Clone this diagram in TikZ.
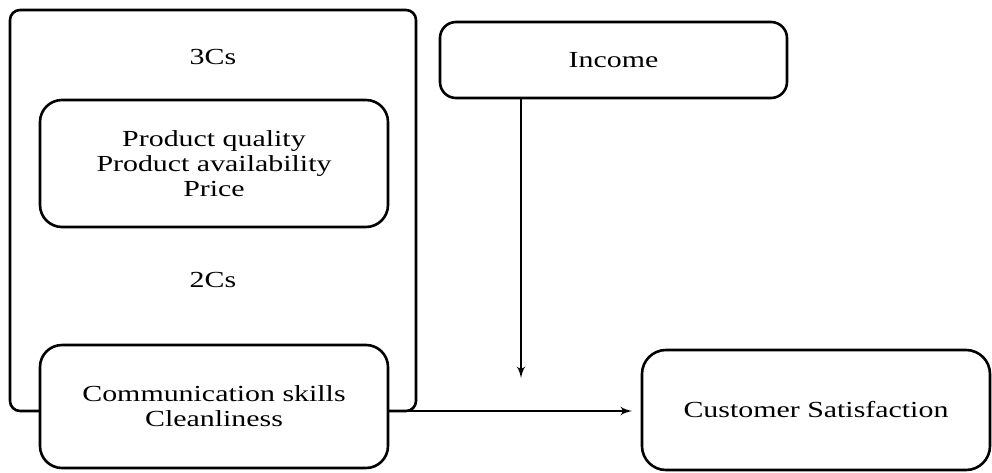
\documentclass[tikz,border=0pt]{standalone}
\usepackage{fontspec}
\setmainfont[FakeStretch=1.3]{Liberation Serif}
\usetikzlibrary{shapes,arrows}
\tikzstyle{group} = [rectangle, draw, line width=1.3pt, rounded corners=5pt,
    minimum width=203pt, minimum height=200.5pt]
\tikzstyle{block} = [rectangle, draw, fill=white, line width=1.3pt, align=center,
    rounded corners=11pt, minimum width=174pt, inner sep=0pt]
\tikzstyle{label} = [inner sep=0pt]
\tikzstyle{line} = [draw, line width=1pt, -latex']

\begin{document}
\begin{tikzpicture}[x=0.5pt, y=-0.5pt,
        every node/.style={font=\fontsize{11.5}{12.5}\selectfont}]
        \useasboundingbox (0,0) rectangle (992,472);
        % Left frame with the two groups
        \node (frame) [group] at (213,210.5) {};
        \node (three) [label] at (213,57) {3Cs};
        \node (quality) [block, minimum height=63.5pt] at (214,163.5)
            {Product quality\\Product availability\\Price};
        \node (two) [label] at (213,280) {2Cs};
        \node (comm) [block, minimum height=61.5pt] at (214,406.5)
            {Communication skills\\Cleanliness};

        % Moderator and outcome
        \node (income) [block, rounded corners=8pt, minimum width=173.5pt,
            minimum height=38pt] at (613.5,60) {Income};
        \node (sat) [block, rounded corners=12pt, minimum height=60pt]
            at (816,410) {Customer Satisfaction};

        % Arrows
        \coordinate (drop) at (521,378);
        \coordinate (tip) at (632,411);
        \path [line] (income.south -| drop) -- (drop);
        \path [line] (comm.east |- tip) -- (tip);
    \end{tikzpicture}
\end{document}
